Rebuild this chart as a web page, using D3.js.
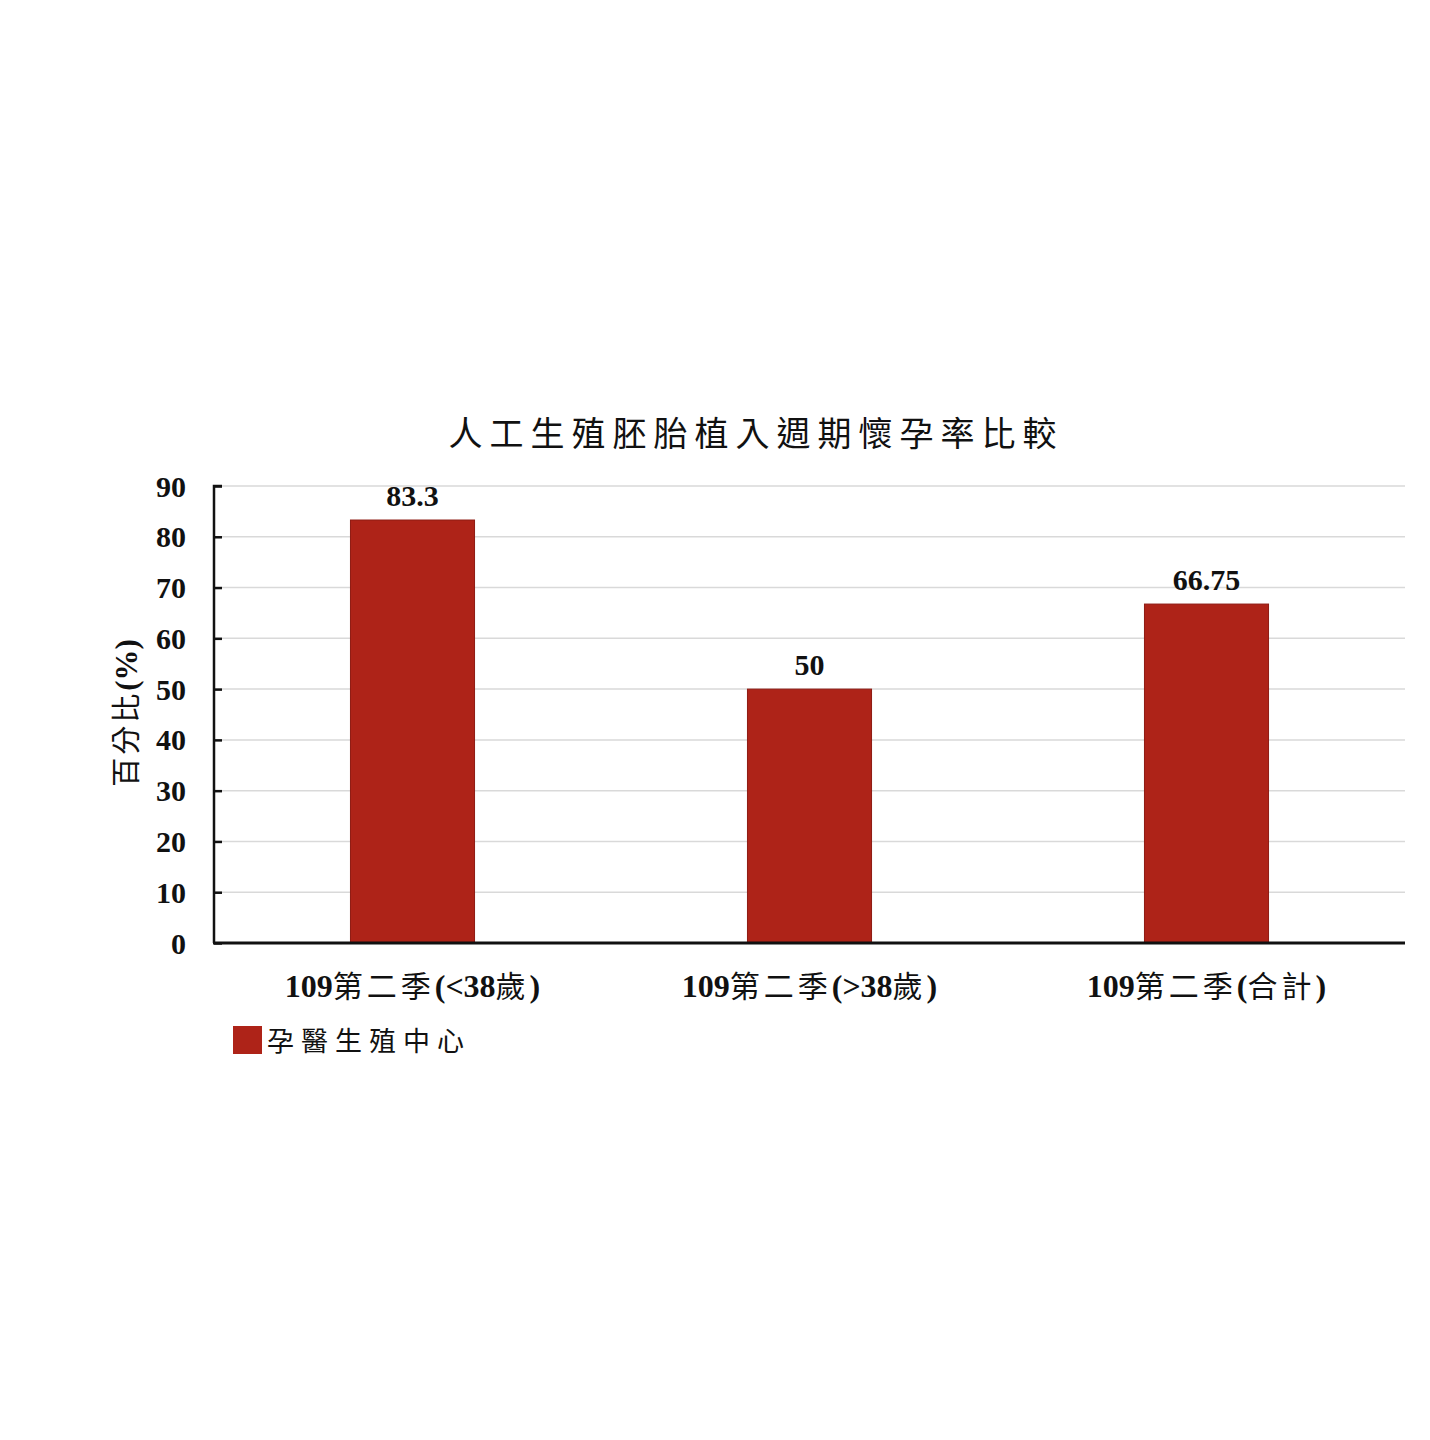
<!DOCTYPE html>
<html>
<head>
<meta charset="utf-8">
<script src="https://cdn.jsdelivr.net/npm/d3@7.9.0/dist/d3.min.js"></script>
<style>
  body { margin: 0; background: #fff; }
  svg { display: block; }
</style>
</head>
<body>
<svg width="1430" height="1440"></svg>
<script>
const title = '人工生殖胚胎植入週期懷孕率比較';
const yLabel = '百分比(%)';
const categories = ['109第二季(<38歲)', '109第二季(>38歲)', '109第二季(合計)'];
const values = [83.3, 50, 66.75];
const valueLabels = ['83.3', '50', '66.75'];
const yTicks = [0, 10, 20, 30, 40, 50, 60, 70, 80, 90];
const seriesName = '孕醫生殖中心';

const latin = '"Liberation Serif", "Times New Roman", serif';
const cjk = '"Noto Sans CJK TC", "Noto Sans CJK SC", sans-serif';
const barColor = '#ae2318';

const svg = d3.select('svg');
const plotLeft = 214, plotRight = 1405, plotTop = 486, plotBottom = 943;

const x = d3.scaleBand()
  .domain(categories)
  .range([plotLeft, plotRight])
  .paddingInner(0.6875)
  .paddingOuter(0.34375);

const y = d3.scaleLinear().domain([0, 90]).range([plotBottom, plotTop]);

// split text into latin / cjk runs so the numbers get a bold serif
function mixedText(sel, str, size, cjkSpacing) {
  const runs = [];
  for (const ch of str) {
    const isCjk = /[\u3000-\u9fff]/.test(ch);
    if (runs.length && runs[runs.length - 1].cjk === isCjk) runs[runs.length - 1].t += ch;
    else runs.push({ t: ch, cjk: isCjk });
  }
  runs.forEach((r) => {
    sel.append('tspan')
      .attr('font-family', r.cjk ? cjk : latin)
      .attr('font-weight', r.cjk ? 400 : 700)
      .attr('font-size', r.cjk ? size - 2 : size)
      .attr('letter-spacing', r.cjk ? cjkSpacing : 0)
      .text(r.t);
  });
}

// gridlines
svg.append('g')
  .selectAll('line')
  .data(yTicks.filter((d) => d > 0))
  .join('line')
  .attr('x1', plotLeft).attr('x2', plotRight)
  .attr('y1', (d) => y(d)).attr('y2', (d) => y(d))
  .attr('stroke', '#d9d9d9')
  .attr('stroke-width', 1.5);

// bars
svg.append('g')
  .selectAll('rect')
  .data(values)
  .join('rect')
  .attr('x', (d, i) => x(categories[i]))
  .attr('y', (d) => y(d))
  .attr('width', x.bandwidth())
  .attr('height', (d) => y(0) - y(d))
  .attr('fill', barColor)
  .attr('stroke', '#8e1a12')
  .attr('stroke-width', 1);

// value labels
svg.append('g')
  .selectAll('text')
  .data(values)
  .join('text')
  .attr('x', (d, i) => x(categories[i]) + x.bandwidth() / 2)
  .attr('y', (d) => y(d) - 14)
  .attr('text-anchor', 'middle')
  .attr('font-family', latin)
  .attr('font-weight', 700)
  .attr('font-size', 30)
  .attr('fill', '#111')
  .text((d, i) => valueLabels[i]);

// y axis
const yAxis = d3.axisRight(y).tickValues(yTicks).tickSize(8).tickFormat('');
const yg = svg.append('g').attr('transform', `translate(${plotLeft},0)`).call(yAxis);
yg.select('.domain').attr('stroke', '#111').attr('stroke-width', 2.5).attr('d', `M8,${plotTop}H0V${plotBottom}`);
yg.selectAll('.tick line').attr('stroke', '#111').attr('stroke-width', 2.5);

svg.append('g')
  .selectAll('text')
  .data(yTicks)
  .join('text')
  .attr('x', 186)
  .attr('y', (d) => y(d))
  .attr('dy', '0.35em')
  .attr('text-anchor', 'end')
  .attr('font-family', latin)
  .attr('font-weight', 700)
  .attr('font-size', 30)
  .attr('fill', '#111')
  .text((d) => d);

// x axis
svg.append('line')
  .attr('x1', plotLeft - 1).attr('x2', plotRight)
  .attr('y1', plotBottom).attr('y2', plotBottom)
  .attr('stroke', '#111')
  .attr('stroke-width', 3);

svg.append('g')
  .selectAll('text')
  .data(categories)
  .join('text')
  .attr('x', (d) => x(d) + x.bandwidth() / 2)
  .attr('y', 997)
  .attr('text-anchor', 'middle')
  .attr('fill', '#111')
  .each(function (d) { mixedText(d3.select(this), d, 32, 4); });

// y label
const yl = svg.append('text')
  .attr('transform', 'translate(137,713) rotate(-90)')
  .attr('text-anchor', 'middle')
  .attr('fill', '#111');
mixedText(yl, yLabel, 31, 3);

// title
svg.append('text')
  .attr('x', 756)
  .attr('y', 446)
  .attr('text-anchor', 'middle')
  .attr('font-family', cjk)
  .attr('font-size', 34)
  .attr('letter-spacing', 7)
  .attr('fill', '#111')
  .text(title);

// legend
svg.append('rect')
  .attr('x', 233).attr('y', 1026)
  .attr('width', 29).attr('height', 28)
  .attr('fill', barColor);
svg.append('text')
  .attr('x', 267)
  .attr('y', 1051)
  .attr('font-family', cjk)
  .attr('font-size', 27)
  .attr('letter-spacing', 7)
  .attr('fill', '#111')
  .text(seriesName);
</script>
</body>
</html>
